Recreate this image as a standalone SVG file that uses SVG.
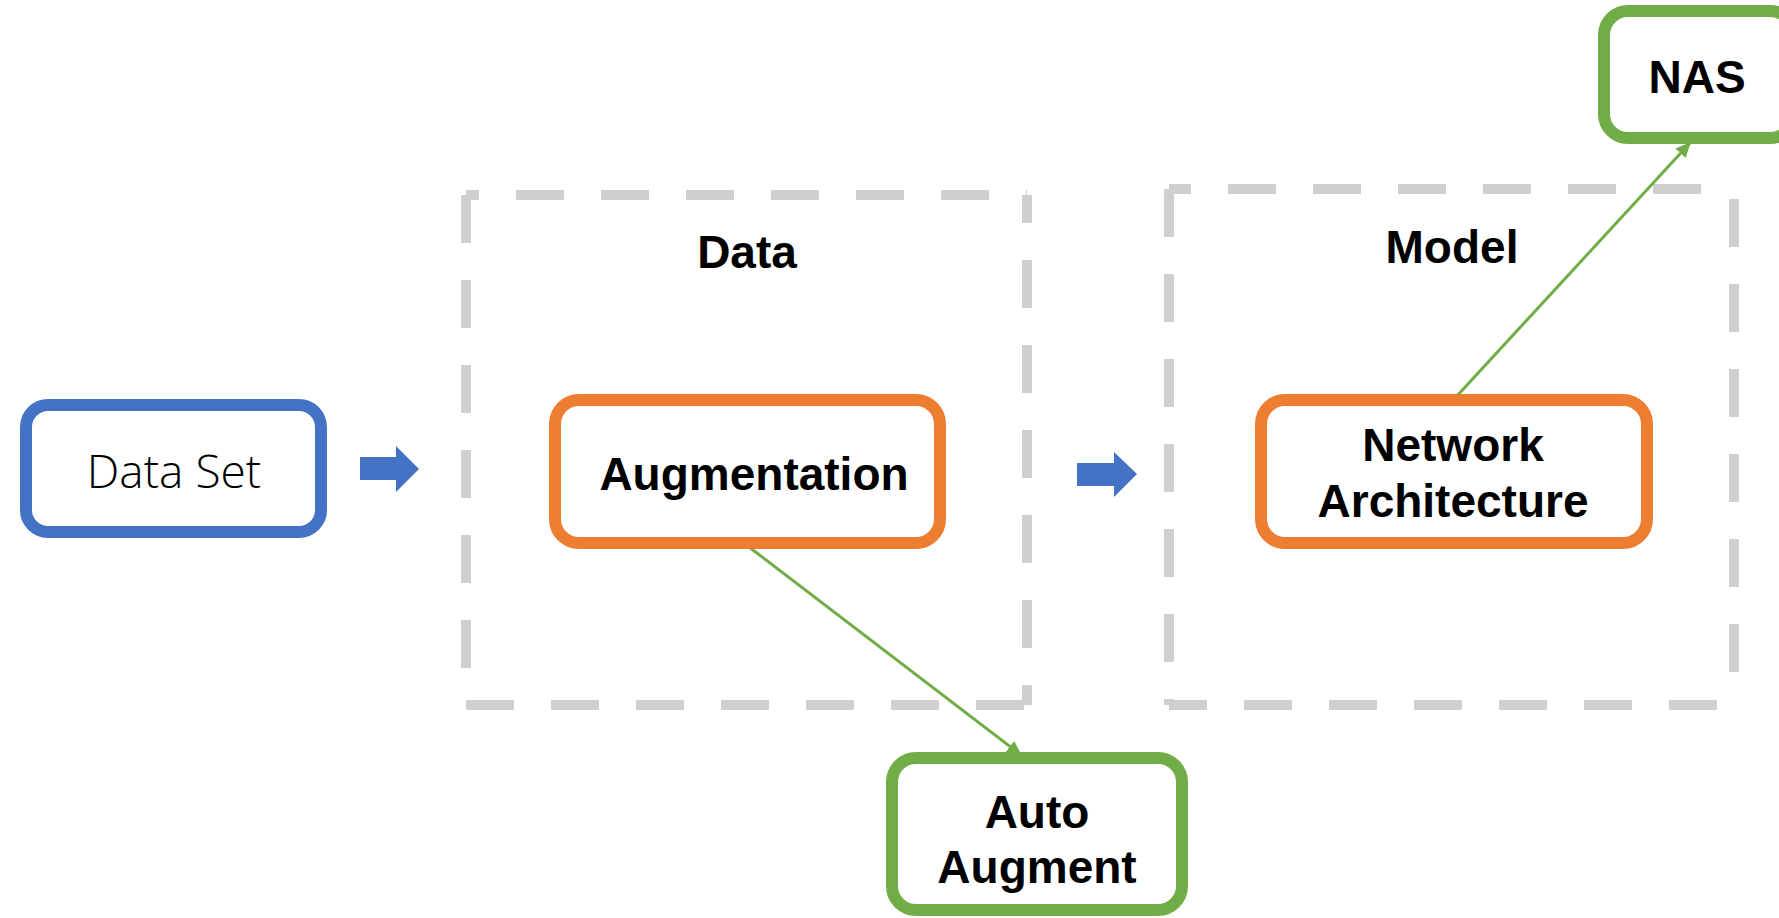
<svg xmlns="http://www.w3.org/2000/svg" width="1779" height="918" viewBox="0 0 1779 918">
<style>
.dash{stroke:#D0CECE;stroke-width:10;fill:none;stroke-dasharray:48 37}
.box{fill:#FFFFFF;stroke-width:12}
.blue{stroke:#4472C4}
.orange{stroke:#ED7D31}
.green{stroke:#70AD47}
.lbl{font-family:"Liberation Sans",Arial,sans-serif;font-weight:bold;font-size:46px;fill:#000;text-anchor:middle}
.light{font-family:"Open Sans","Noto Sans","Liberation Sans",sans-serif;font-weight:300;font-size:46px;fill:#000;text-anchor:middle}
.conn{stroke:#70AD47;stroke-width:3;fill:none}
.barrow{fill:#4472C4}
</style>
<defs>
<marker id="ah" markerUnits="userSpaceOnUse" markerWidth="16" markerHeight="14" refX="14" refY="7" orient="auto">
<path d="M0,0 L15,7 L0,14 Z" fill="#70AD47"/>
</marker>
</defs>
<rect width="1779" height="918" fill="#FFFFFF"/>

<g id="group-data">
<line class="dash" x1="466" y1="195" x2="1027" y2="195" stroke-dashoffset="35"/>
<line class="dash" x1="466" y1="705" x2="1027" y2="705" stroke-dashoffset="0"/>
<line class="dash" x1="466" y1="195" x2="466" y2="705" stroke-dashoffset="0"/>
<line class="dash" x1="1027" y1="195" x2="1027" y2="705" stroke-dashoffset="20"/>
<text class="lbl" x="747" y="268">Data</text>
</g>

<g id="group-model">
<line class="dash" x1="1169" y1="189" x2="1710" y2="189" stroke-dashoffset="26"/>
<line class="dash" x1="1169" y1="705" x2="1734" y2="705" stroke-dashoffset="10"/>
<line class="dash" x1="1169" y1="189" x2="1169" y2="705" stroke-dashoffset="0"/>
<line class="dash" x1="1734" y1="199" x2="1734" y2="705" stroke-dashoffset="0"/>
<text class="lbl" x="1452" y="263">Model</text>
</g>

<g id="connectors">
<polygon class="barrow" points="360,457 396,457 396,446 419,469 396,492 396,480 360,480"/>
<polygon class="barrow" points="1077,463 1114,463 1114,452 1137,474 1114,497 1114,486 1077,486"/>
<line class="conn" x1="749" y1="547" x2="1021" y2="755" marker-end="url(#ah)"/>
<line class="conn" x1="1456" y1="397" x2="1690" y2="143" marker-end="url(#ah)"/>
</g>

<g id="node-dataset">
<rect class="box blue" x="26" y="405" width="295" height="127" rx="22"/>
<text class="light" x="174" y="488">Data Set</text>
</g>

<g id="node-augmentation">
<rect class="box orange" x="555" y="400" width="385" height="143" rx="24"/>
<text class="lbl" x="754" y="490">Augmentation</text>
</g>

<g id="node-network">
<rect class="box orange" x="1261" y="400" width="386" height="143" rx="24"/>
<text class="lbl" x="1453" y="461">Network</text>
<text class="lbl" x="1453" y="517">Architecture</text>
</g>

<g id="node-autoaugment">
<rect class="box green" x="892" y="758" width="290" height="152" rx="24"/>
<text class="lbl" x="1037" y="828">Auto</text>
<text class="lbl" x="1037" y="883">Augment</text>
</g>

<g id="node-nas">
<rect class="box green" x="1604" y="11" width="190" height="127" rx="24"/>
<text class="lbl" x="1697" y="93" font-size="44">NAS</text>
</g>
</svg>
